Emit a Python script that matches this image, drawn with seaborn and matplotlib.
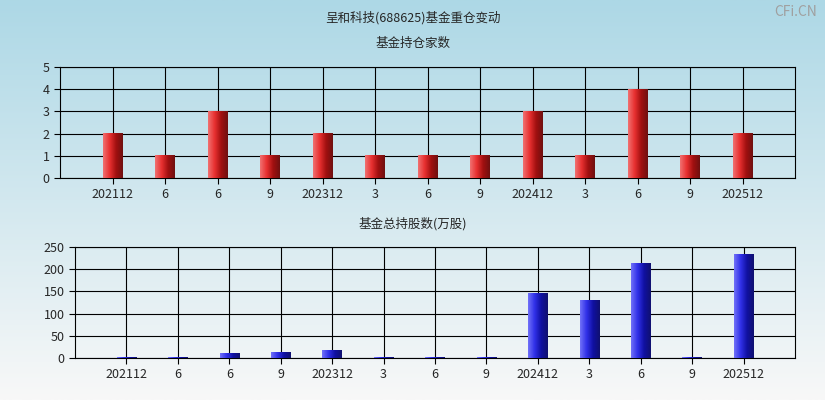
import numpy as np
import pandas as pd
import matplotlib
matplotlib.use("Agg")
import matplotlib.pyplot as plt
import seaborn as sns
from matplotlib.colors import LinearSegmentedColormap

sns.set_style("white")
plt.rcParams['font.family'] = ['Noto Sans CJK SC', 'DejaVu Sans']

labels = ["202112", "6", "6", "9", "202312", "3", "6", "9", "202412", "3", "6", "9", "202512"]
fund_count = [2, 1, 3, 1, 2, 1, 1, 1, 3, 1, 4, 1, 2]
total_shares = [2, 2, 11, 13, 16, 2, 2, 2, 145, 130, 213, 2, 232]

fig = plt.figure(figsize=(8.25, 4), dpi=100)
bg = fig.add_axes([0, 0, 1, 1], zorder=-10)
grad = np.linspace(0, 1, 256).reshape(-1, 1)
bg.imshow(grad, aspect='auto', extent=[0, 1, 0, 1],
          cmap=LinearSegmentedColormap.from_list('bg', ['#add8e6', '#f8f8f8']), origin='upper')
bg.axis('off')

red_cmap = LinearSegmentedColormap.from_list('r', ['#f07070', '#e83030', '#a01010', '#701010'])
blue_cmap = LinearSegmentedColormap.from_list('b', ['#7070f8', '#3030e8', '#1010a0', '#101070'])

def draw(ax, vals, cmap, ymax, step):
    df = pd.DataFrame({'x': range(len(labels)), 'y': vals})
    sns.barplot(data=df, x='x', y='y', ax=ax, width=0.38, color='red', native_scale=True, zorder=3)
    g = np.linspace(0, 1, 64).reshape(1, -1)
    for p in ax.patches:
        x0, y0 = p.get_x(), p.get_y()
        w, h = p.get_width(), p.get_height()
        p.set_alpha(0)
        ax.imshow(g, aspect='auto', cmap=cmap, extent=[x0, x0 + w, y0, y0 + h], zorder=4)
    ax.set_xlim(-1, 13)
    ax.set_ylim(0, ymax)
    ax.set_xticks(range(len(labels)))
    ax.set_xticklabels(labels)
    ax.set_yticks(np.arange(0, ymax + 0.1, step))
    ax.grid(True, color='black', linewidth=0.8, zorder=0)
    ax.set_axisbelow(True)
    ax.set_facecolor('none')
    ax.set_xlabel('')
    ax.set_ylabel('')
    for s in ax.spines.values():
        s.set_color('black')
        s.set_linewidth(0.8)
    ax.tick_params(axis='both', labelsize=9, length=4, direction='out', left=True, bottom=True, color='black')

ax1 = fig.add_axes([60/825, 222/400, 735/825, 111/400])
draw(ax1, fund_count, red_cmap, 5, 1)
ax2 = fig.add_axes([75/825, 42/400, 720/825, 111/400])
draw(ax2, total_shares, blue_cmap, 250, 50)

fig.text(0.5, 1 - 18/400, "呈和科技(688625)基金重仓变动", ha='center', va='center', fontsize=9)
fig.text(0.5, 1 - 43/400, "基金持仓家数", ha='center', va='center', fontsize=9)
fig.text(0.5, 1 - 224/400, "基金总持股数(万股)", ha='center', va='center', fontsize=9)
fig.text(0.99, 1 - 12/400, "CFi.CN", ha='right', va='center', fontsize=10, color='#a0a0a0')
ax1.set_xlim(-1, 13); ax2.set_xlim(-1, 13)
fig.savefig("out.png", dpi=100)
